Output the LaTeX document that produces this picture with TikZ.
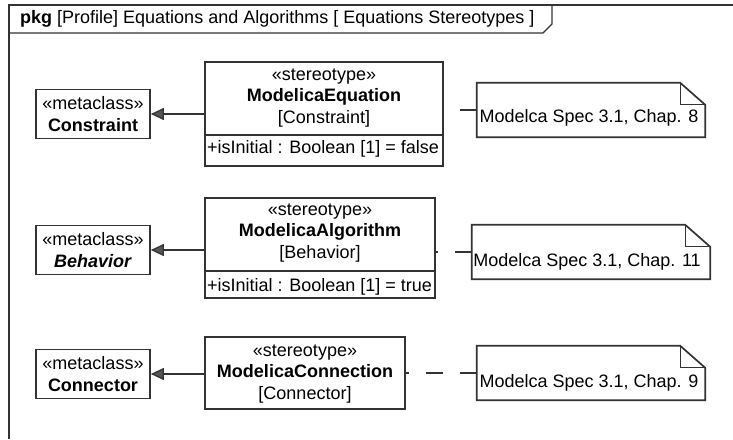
\documentclass[tikz,border=0pt]{standalone}
\usepackage{fontspec}
\setmainfont{Liberation Sans}
\usetikzlibrary{arrows.meta}
\definecolor{umlline}{HTML}{333333}
\definecolor{tipfill}{HTML}{555555}

\begin{document}
\begin{tikzpicture}[x=1pt,y=-1pt,
  every node/.style={font=\fontsize{18}{21.5}\selectfont,inner sep=0pt},
  classbox/.style={draw=umlline,line width=1.7pt},
  metabox/.style={draw=umlline,line width=1.7pt,align=center,minimum width=114pt,minimum height=49pt},
  notebox/.style={minimum height=54pt},
  extends/.style={draw=umlline,line width=1.2pt,-{Triangle[length=13pt,width=12pt,fill=tipfill]}},
  anchorline/.style={draw=umlline,line width=1.1pt,dash pattern=on 17pt off 17pt}]
  \useasboundingbox (0,0) rectangle (733,439);
  \draw[umlline,line width=1.3pt] (9,439) -- (9,5) -- (733,5);
  \draw[umlline,line width=1.1pt] (9,33) -- (543,33) -- (552,24) -- (552,5);
  \node[anchor=west] (title) at (20,19) {\textbf{pkg} [Profile] Equations and Algorithms [ Equations Stereotypes ]};

  \node[metabox] (constraint) at (93,114) {«metaclass»\\\textbf{Constraint}};
  \node[classbox,minimum width=238pt,minimum height=104pt] (equation) at (324,114) {};
  \node[align=center] (equationhead) at (324,98) {«stereotype»\\\textbf{ModelicaEquation}\\{[Constraint]}};
  \draw[umlline,line width=1.7pt] (equation.west |- 0,135) -- (equation.east |- 0,135);
  \node[anchor=west] (equationattr) at (207,149) {+isInitial : Boolean [1] = false};
  \draw[extends] (equation) -- (constraint);

  \node[metabox] (behavior) at (93,250) {«metaclass»\\\textbf{\textit{Behavior}}};
  \node[classbox,minimum width=230pt,minimum height=100pt] (algorithm) at (320,248) {};
  \node[align=center] (algorithmhead) at (320,233) {«stereotype»\\\textbf{ModelicaAlgorithm}\\{[Behavior]}};
  \draw[umlline,line width=1.7pt] (algorithm.west |- 0,271) -- (algorithm.east |- 0,271);
  \node[anchor=west] (algorithmattr) at (207,287) {+isInitial : Boolean [1] = true};
  \draw[extends] (algorithm.west |- behavior) -- (behavior);

  \node[metabox] (connector) at (93,374) {«metaclass»\\\textbf{Connector}};
  \node[classbox,minimum width=200pt,minimum height=72pt] (connection) at (305,373) {};
  \node[align=center] (connectionhead) at (305,374) {«stereotype»\\\textbf{ModelicaConnection}\\{[Connector]}};
  \draw[extends] (connection.west |- connector) -- (connector);

  \node[notebox,minimum width=228pt] (note1) at (591,110) {};
  \node (note1text) at (589,118) {Modelca Spec 3.1, Chap. 8};
  \node[notebox,minimum width=238pt] (note2) at (591,252) {};
  \node (note2text) at (587,262) {Modelca Spec 3.1, Chap. 11};
  \node[notebox,minimum width=228pt] (note3) at (591,373) {};
  \node (note3text) at (589,383) {Modelca Spec 3.1, Chap. 9};
  \foreach \n in {note1,note2,note3} {
    \draw[umlline,line width=1.7pt] (\n.south west) -- (\n.north west) -- ([xshift=-25pt]\n.north east)
      -- ([yshift=-22pt]\n.north east) -- (\n.south east) -- cycle;
    \draw[umlline,line width=1.2pt] ([xshift=-25pt]\n.north east) |- ([yshift=-22pt]\n.north east);
  }

  \draw[anchorline] (note1) -- (note1 -| equation.east);
  \draw[anchorline] (note2) -- (note2 -| algorithm.east);
  \draw[anchorline] (note3) -- (note3 -| connection.east);
\end{tikzpicture}
\end{document}
